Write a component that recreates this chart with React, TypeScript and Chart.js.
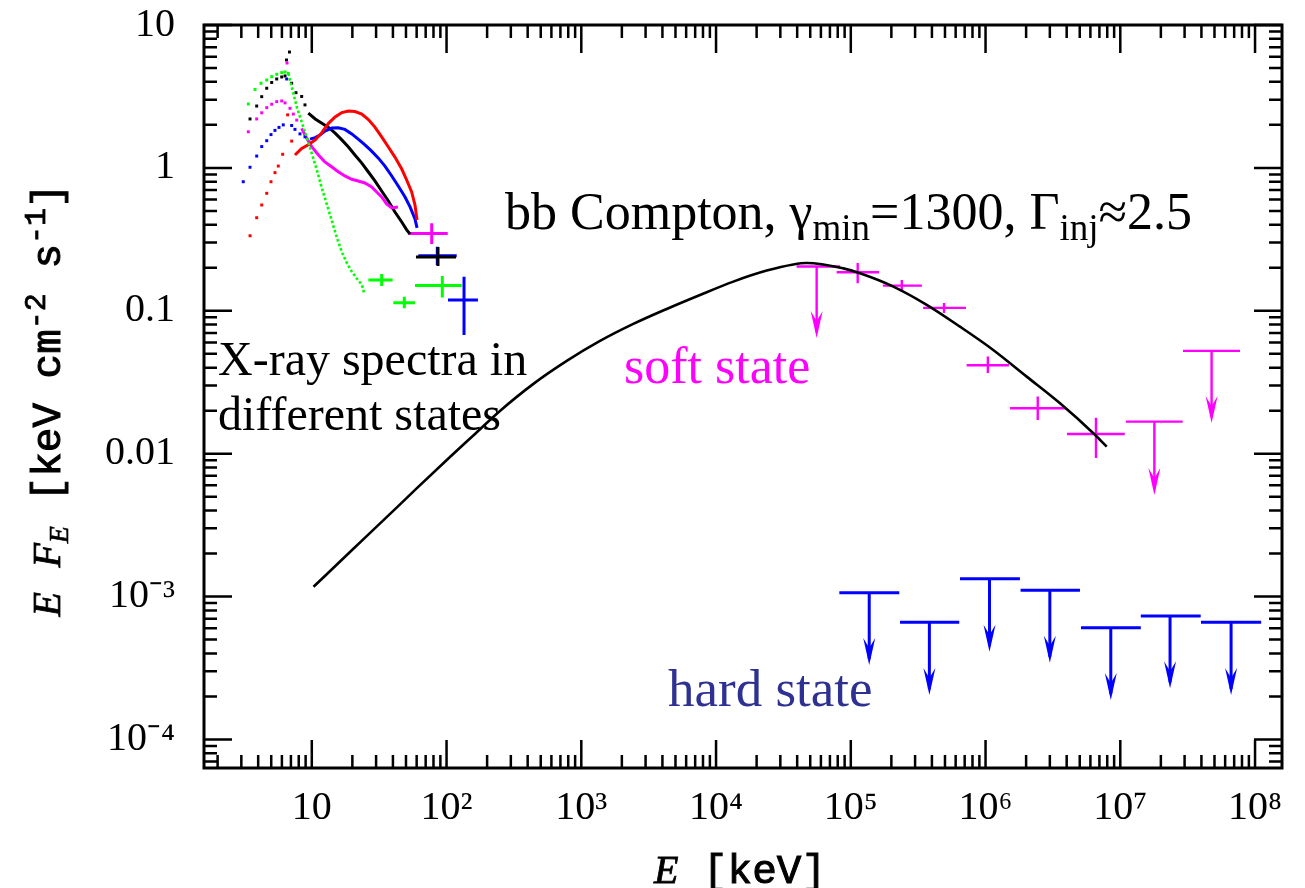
import React, { useEffect, useRef } from "react";
import { Chart, registerables } from "chart.js";

Chart.register(...registerables);

// ---------- axes ----------
const X_MIN = 1.585;
const X_MAX = 1.585e8;
const Y_MIN = 6.31e-5;
const Y_MAX = 10;

const xTickValues = [10, 1e2, 1e3, 1e4, 1e5, 1e6, 1e7, 1e8];
const xTickLabels = ["10", "10²", "10³", "10⁴", "10⁵", "10⁶", "10⁷", "10⁸"];
const yTickValues = [1e-4, 1e-3, 0.01, 0.1, 1, 10];
const yTickLabels = ["10⁻⁴", "10⁻³", "0.01", "0.1", "1", "10"];

// ---------- model curve (bb Compton) ----------
const modelE = [10.3, 19.2, 33.9, 60.0, 106, 158, 249, 441, 780, 1377, 2432, 4306, 7603, 13430, 23770, 37420, 47060, 87960, 1.17e5, 2.07e5, 3.66e5, 6.46e5, 1.14e6, 2.02e6, 3.57e6, 6.31e6, 7.93e6];
const modelF = [1.17e-3, 2.05e-3, 3.41e-3, 5.71e-3, 9.48e-3, 0.0134, 0.0199, 0.0308, 0.0446, 0.0615, 0.0809, 0.103, 0.129, 0.16, 0.191, 0.211, 0.216, 0.198, 0.183, 0.1476, 0.11, 0.0774, 0.0532, 0.0346, 0.0225, 0.0139, 0.0112];

// ---------- X-ray spectra ----------
const greenLowE = [3.38, 3.79, 4.2, 4.63, 5.04, 5.49, 5.98, 6.33, 6.69];
const greenLowF = [2.8, 3.54, 3.91, 4.12, 4.35, 4.52, 4.64, 4.69, 4.58];
const greenHighE = [6.69, 7.25, 7.77, 8.41, 9.17, 9.98, 10.9, 11.8, 12.9, 14.1, 15.3, 16.7, 18.2, 19.8, 21.5, 23.5, 24.5];
const greenHighF = [4.58, 3.4, 2.63, 2.1, 1.64, 1.27, 0.967, 0.735, 0.559, 0.425, 0.328, 0.258, 0.216, 0.188, 0.169, 0.152, 0.133];

const blackLowE = [3.48, 3.9, 4.25, 4.63, 5.04, 5.49, 5.98, 6.33, 6.49, 6.83, 7.09, 7.63, 8.41, 8.9];
const blackLowF = [2.2, 2.71, 3.15, 3.61, 3.96, 4.19, 4.33, 4.4, 5.69, 6.47, 3.91, 3.36, 3.16, 2.76];
const blackHighE = [9.42, 10.6, 11.8, 13.3, 14.9, 16.7, 18.7, 20.9, 23.5, 26.3, 29.4, 33.0, 37.0, 41.4, 46.5, 50.6, 53.6];
const blackHighF = [2.42, 2.2, 2.06, 1.92, 1.75, 1.57, 1.4, 1.23, 1.08, 0.936, 0.81, 0.689, 0.587, 0.491, 0.418, 0.368, 0.345];

const redLowE = [3.48, 3.9, 4.25, 4.63, 4.98, 5.33, 5.64, 6.08, 6.62, 7.09];
const redLowF = [0.335, 0.448, 0.55, 0.664, 0.8, 0.926, 1.03, 1.245, 2.35, 1.54];
const redHighE = [7.5, 8.41, 9.42, 10.6, 11.8, 13.3, 14.9, 16.7, 18.7, 20.9, 23.5, 26.3, 29.4, 33.0, 37.0, 41.4, 46.5, 50.6, 55.1, 58.3, 60.4];
const redHighF = [1.23, 1.37, 1.45, 1.57, 1.75, 2.05, 2.27, 2.44, 2.5, 2.48, 2.38, 2.18, 1.93, 1.65, 1.4, 1.19, 0.982, 0.823, 0.678, 0.55, 0.432];

const blueLowE = [3.1, 3.48, 3.9, 4.25, 4.63, 4.98, 5.33, 5.71, 6.14, 6.51, 7.09, 7.5, 8.17, 8.9];
const blueLowF = [0.8, 1.01, 1.21, 1.41, 1.55, 1.71, 1.83, 1.92, 2.0, 4.19, 1.98, 1.86, 1.73, 1.65];
const blueHighE = [9.69, 10.6, 11.5, 12.5, 14.1, 15.7, 17.6, 19.8, 22.1, 24.8, 27.8, 31.2, 34.9, 39.2, 43.8, 49.2, 53.6, 58.3, 60.4];
const blueHighF = [1.59, 1.63, 1.7, 1.81, 1.9, 1.91, 1.86, 1.73, 1.59, 1.45, 1.31, 1.17, 1.03, 0.878, 0.747, 0.626, 0.533, 0.439, 0.38];

const magentaLowE = [3.38, 3.9, 4.25, 4.63, 5.04, 5.49, 5.98, 6.33, 6.55, 6.89, 7.29, 7.73];
const magentaLowF = [1.79, 2.2, 2.43, 2.64, 2.79, 2.91, 2.94, 2.85, 5.42, 2.61, 2.38, 2.16];
const magentaHighE = [8.41, 9.17, 9.98, 11.2, 12.5, 14.1, 15.7, 17.6, 19.8, 22.1, 24.8, 27.8, 30.3, 33.0, 35.9, 39.2, 43.6];
const magentaHighF = [1.89, 1.61, 1.41, 1.23, 1.1, 1.015, 0.941, 0.878, 0.832, 0.81, 0.784, 0.735, 0.678, 0.626, 0.559, 0.524, 0.533];

// X-ray crosses (E, E-range, F, F-range)
const greenCrossE = [33.0, 48.6, 93.0];
const greenCrossELo = [26.3, 40.3, 58.3];
const greenCrossEHi = [39.8, 58.3, 129.5];
const greenCrossF = [0.164, 0.114, 0.15];
const greenCrossFLo = [0.149, 0.104, 0.1236];
const greenCrossFHi = [0.181, 0.1256, 0.175];

const blueCrossE = [85.4, 134.8];
const blueCrossELo = [61.7, 102.5];
const blueCrossEHi = [119, 171];
const blueCrossF = [0.243, 0.119];
const blueCrossFLo = [0.209, 0.0677];
const blueCrossFHi = [0.281, 0.173];

const blackCrossE = [86.4];
const blackCrossELo = [59.3];
const blackCrossEHi = [117.5];
const blackCrossF = [0.238];
const blackCrossFLo = [0.206];
const blackCrossFHi = [0.2796];

const magentaCrossE = [77.6];
const magentaCrossELo = [52.0];
const magentaCrossEHi = [102];
const magentaCrossF = [0.348];
const magentaCrossFLo = [0.2935];
const magentaCrossFHi = [0.409];

// ---------- gamma-ray data: soft state ----------
const softCrossE = [1.125e5, 2.39e5, 4.92e5, 1.04e6, 2.44e6, 6.6e6];
const softCrossELo = [7.85e4, 1.73e5, 3.44e5, 7.24e5, 1.52e6, 4.02e6];
const softCrossEHi = [1.62e5, 3.37e5, 7.16e5, 1.49e6, 3.95e6, 1.08e7];
const softCrossF = [0.186, 0.15, 0.1047, 0.0416, 0.0208, 0.01374];
const softCrossFLo = [0.156, 0.1355, 0.0966, 0.0367, 0.0172, 0.00933];
const softCrossFHi = [0.216, 0.164, 0.1135, 0.0478, 0.0251, 0.0178];

const softUlE = [5.58e4, 1.79e7, 4.76e7];
const softUlELo = [3.96e4, 1.1e7, 2.92e7];
const softUlEHi = [8.32e4, 2.9e7, 7.73e7];
const softUlF = [0.204, 0.01675, 0.0524];
const softUlTip = [0.0645, 0.00514, 0.0164];

// ---------- gamma-ray data: hard state (upper limits) ----------
const hardUlE = [1.37e5, 3.83e5, 1.07e6, 3.0e6, 8.5e6, 2.34e7, 6.64e7];
const hardUlELo = [8.22e4, 2.32e5, 6.46e5, 1.82e6, 5.11e6, 1.42e7, 3.97e7];
const hardUlEHi = [2.29e5, 6.38e5, 1.8e6, 5.02e6, 1.42e7, 3.95e7, 1.11e8];
const hardUlF = [1.064e-3, 6.6e-4, 1.33e-3, 1.106e-3, 6.05e-4, 7.31e-4, 6.6e-4];
const hardUlTip = [3.32e-4, 2.05e-4, 4.11e-4, 3.44e-4, 1.89e-4, 2.28e-4, 2.05e-4];

// ---------- colours ----------
const GREEN = "#00ff00";
const BLUE = "#0000ff";
const RED = "#ff0000";
const MAGENTA = "#ff00ff";
const BLACK = "#000000";
const HARD_TEXT = "#2e3192";

const toXY = (xs: number[], ys: number[]) => xs.map((x, i) => ({ x, y: ys[i] }));

const labelFor = (values: number[], labels: string[], v: number) => {
  const i = values.findIndex((t) => Math.abs(Math.log10(t) - Math.log10(v)) < 1e-6);
  return i >= 0 ? labels[i] : "";
};

type Seg = { t: string; font: string; dy?: number; bold?: number };
const drawSegs = (ctx: CanvasRenderingContext2D, segs: Seg[], x: number, y: number, center: boolean) => {
  let w = 0;
  for (const s of segs) {
    ctx.font = s.font;
    w += ctx.measureText(s.t).width;
  }
  let cx = center ? x - w / 2 : x;
  for (const s of segs) {
    ctx.font = s.font;
    ctx.fillText(s.t, cx, y + (s.dy || 0));
    if (s.bold) {
      ctx.lineWidth = s.bold;
      ctx.strokeStyle = ctx.fillStyle as string;
      ctx.strokeText(s.t, cx, y + (s.dy || 0));
    }
    cx += ctx.measureText(s.t).width;
  }
};

const overlay = {
  id: "overlay",
  beforeDatasetsDraw(chart: any) {
    const ctx: CanvasRenderingContext2D = chart.ctx;
    const xs = chart.scales.x;
    const ys = chart.scales.y;
    const px = (v: number) => xs.getPixelForValue(v);
    const py = (v: number) => ys.getPixelForValue(v);
    ctx.save();
    ctx.lineCap = "butt";

    const crosses = (color: string, lw: number, E: number[], ELo: number[], EHi: number[], F: number[], FLo: number[], FHi: number[]) => {
      ctx.strokeStyle = color;
      ctx.lineWidth = lw;
      for (let i = 0; i < E.length; i++) {
        ctx.beginPath();
        ctx.moveTo(px(ELo[i]), py(F[i]));
        ctx.lineTo(px(EHi[i]), py(F[i]));
        ctx.moveTo(px(E[i]), py(FHi[i]));
        ctx.lineTo(px(E[i]), py(FLo[i]));
        ctx.stroke();
      }
    };
    const limits = (color: string, lw: number, E: number[], ELo: number[], EHi: number[], F: number[], Tip: number[]) => {
      ctx.strokeStyle = color;
      ctx.fillStyle = color;
      ctx.lineWidth = lw;
      for (let i = 0; i < E.length; i++) {
        const x = px(E[i]);
        const y = py(F[i]);
        const t = py(Tip[i]);
        ctx.beginPath();
        ctx.moveTo(px(ELo[i]), y);
        ctx.lineTo(px(EHi[i]), y);
        ctx.moveTo(x, y);
        ctx.lineTo(x, t - 6);
        ctx.stroke();
        ctx.beginPath();
        ctx.moveTo(x, t);
        ctx.lineTo(x - 6, t - 27);
        ctx.lineTo(x, t - 17);
        ctx.lineTo(x + 6, t - 27);
        ctx.closePath();
        ctx.fill();
      }
    };

    crosses(GREEN, 3, greenCrossE, greenCrossELo, greenCrossEHi, greenCrossF, greenCrossFLo, greenCrossFHi);
    crosses(BLUE, 3, blueCrossE, blueCrossELo, blueCrossEHi, blueCrossF, blueCrossFLo, blueCrossFHi);
    crosses(BLACK, 3, blackCrossE, blackCrossELo, blackCrossEHi, blackCrossF, blackCrossFLo, blackCrossFHi);
    crosses(MAGENTA, 3, magentaCrossE, magentaCrossELo, magentaCrossEHi, magentaCrossF, magentaCrossFLo, magentaCrossFHi);
    crosses(MAGENTA, 2.4, softCrossE, softCrossELo, softCrossEHi, softCrossF, softCrossFLo, softCrossFHi);
    limits(MAGENTA, 2.4, softUlE, softUlELo, softUlEHi, softUlF, softUlTip);
    limits(BLUE, 3, hardUlE, hardUlELo, hardUlEHi, hardUlF, hardUlTip);
    ctx.restore();
  },
  afterDraw(chart: any) {
    const ctx: CanvasRenderingContext2D = chart.ctx;
    const a = chart.chartArea;
    const xs = chart.scales.x;
    const ys = chart.scales.y;
    ctx.save();

    // tick marks (inward, all four sides)
    ctx.strokeStyle = BLACK;
    ctx.lineWidth = 2.5;
    const logTicks = (scale: any, cb: (p: number, len: number) => void) => {
      const lo = Math.floor(Math.log10(scale.min));
      const hi = Math.ceil(Math.log10(scale.max));
      for (let d = lo; d <= hi; d++) {
        for (let m = 1; m <= 9; m++) {
          const v = m * Math.pow(10, d);
          if (v < scale.min * 0.9999 || v > scale.max * 1.0001) continue;
          cb(scale.getPixelForValue(v), m === 1 ? 28 : 13);
        }
      }
    };
    ctx.beginPath();
    logTicks(xs, (p, len) => {
      ctx.moveTo(p, a.bottom);
      ctx.lineTo(p, a.bottom - len);
      ctx.moveTo(p, a.top);
      ctx.lineTo(p, a.top + len);
    });
    logTicks(ys, (p, len) => {
      ctx.moveTo(a.left, p);
      ctx.lineTo(a.left + len, p);
      ctx.moveTo(a.right, p);
      ctx.lineTo(a.right - len, p);
    });
    ctx.stroke();

    // frame
    ctx.lineWidth = 3;
    ctx.strokeRect(a.left, a.top, a.right - a.left, a.bottom - a.top);

    // axis titles
    ctx.fillStyle = BLACK;
    ctx.textBaseline = "alphabetic";
    ctx.textAlign = "left";
    const mono = '41px "Liberation Mono"';
    const monoSmall = '30px "Liberation Mono"';
    const ital = 'italic 40px "Liberation Serif"';
    const italSmall = 'italic 28px "Liberation Serif"';
    drawSegs(ctx, [
      { t: "E", font: ital, bold: 0.8 },
      { t: " [keV]", font: mono, bold: 1.0 },
    ], 740, 883, true);

    ctx.save();
    ctx.translate(60, 400);
    ctx.rotate(-Math.PI / 2);
    drawSegs(ctx, [
      { t: "E", font: ital, bold: 0.8 },
      { t: " ", font: mono },
      { t: "F", font: ital, bold: 0.8 },
      { t: "E", font: italSmall, dy: 8, bold: 0.6 },
      { t: " [keV cm", font: mono, bold: 1.0 },
      { t: "-2", font: monoSmall, dy: -15, bold: 0.8 },
      { t: " s", font: mono, bold: 1.0 },
      { t: "-1", font: monoSmall, dy: -15, bold: 0.8 },
      { t: "]", font: mono, bold: 1.0 },
    ], 0, 0, true);
    ctx.restore();

    // annotations
    const serif = (s: number) => `${s}px "Liberation Serif"`;
    ctx.fillStyle = BLACK;
    drawSegs(ctx, [
      { t: "bb Compton, γ", font: serif(52) },
      { t: "min", font: serif(37), dy: 11 },
      { t: "=1300, Γ", font: serif(52) },
      { t: "inj", font: serif(37), dy: 11 },
      { t: "≈2.5", font: serif(52) },
    ], 505, 229, false);
    drawSegs(ctx, [{ t: "X-ray spectra in", font: serif(48) }], 218, 375, false);
    drawSegs(ctx, [{ t: "different states", font: serif(48) }], 218, 430, false);
    ctx.fillStyle = MAGENTA;
    drawSegs(ctx, [{ t: "soft state", font: serif(52) }], 624, 383, false);
    ctx.fillStyle = HARD_TEXT;
    drawSegs(ctx, [{ t: "hard state", font: serif(53) }], 668, 706, false);
    ctx.restore();
  },
};

const dots = (xs: number[], ys: number[], color: string) => ({
  data: toXY(xs, ys),
  showLine: false,
  pointStyle: "rect",
  pointRadius: 2.1,
  pointBorderWidth: 0,
  pointBackgroundColor: color,
  borderColor: color,
  backgroundColor: color,
});

const solid = (xs: number[], ys: number[], color: string, width: number) => ({
  data: toXY(xs, ys),
  showLine: true,
  pointRadius: 0,
  borderWidth: width,
  borderColor: color,
  backgroundColor: color,
  fill: false,
});

export default function App() {
  const ref = useRef<HTMLCanvasElement>(null);

  useEffect(() => {
    const canvas = ref.current;
    if (!canvas) return;
    const chart = new Chart(canvas, {
      type: "scatter",
      data: {
        datasets: [
          dots(greenLowE, greenLowF, GREEN),
          { ...solid(greenHighE, greenHighF, GREEN, 2.6), borderDash: [2.6, 2.2] },
          dots(redLowE, redLowF, RED),
          dots(blueLowE, blueLowF, BLUE),
          dots(magentaLowE, magentaLowF, MAGENTA),
          dots(blackLowE, blackLowF, BLACK),
          solid(redHighE, redHighF, RED, 3),
          solid(blueHighE, blueHighF, BLUE, 3),
          solid(magentaHighE, magentaHighF, MAGENTA, 3),
          solid(blackHighE, blackHighF, BLACK, 3),
          { ...solid(modelE, modelF, BLACK, 2.6), cubicInterpolationMode: "monotone" },
        ] as any,
      },
      options: {
        responsive: false,
        animation: false,
        devicePixelRatio: 1,
        events: [],
        layout: { padding: { left: 0, top: 25, right: 23, bottom: 0 } },
        plugins: { legend: { display: false }, tooltip: { enabled: false } },
        scales: {
          x: {
            type: "logarithmic",
            position: "bottom",
            min: X_MIN,
            max: X_MAX,
            bounds: "data",
            grid: { display: false, drawTicks: false },
            border: { display: false },
            afterBuildTicks: (s: any) => {
              s.ticks = xTickValues.map((v) => ({ value: v }));
            },
            afterFit: (s: any) => {
              s.height = 120;
              s.paddingLeft = 0;
              s.paddingRight = 0;
            },
            ticks: {
              autoSkip: false,
              maxRotation: 0,
              minRotation: 0,
              padding: 16,
              color: BLACK,
              font: { family: "Liberation Serif", size: 40 },
              callback: (v: any) => labelFor(xTickValues, xTickLabels, Number(v)),
            },
          },
          y: {
            type: "logarithmic",
            position: "left",
            min: Y_MIN,
            max: Y_MAX,
            bounds: "data",
            grid: { display: false, drawTicks: false },
            border: { display: false },
            afterBuildTicks: (s: any) => {
              s.ticks = yTickValues.map((v) => ({ value: v }));
            },
            afterFit: (s: any) => {
              s.width = 204;
              s.paddingTop = 0;
              s.paddingBottom = 0;
            },
            ticks: {
              autoSkip: false,
              padding: 29,
              color: BLACK,
              font: { family: "Liberation Serif", size: 40 },
              callback: (v: any) => labelFor(yTickValues, yTickLabels, Number(v)),
            },
          },
        },
      } as any,
      plugins: [overlay],
    });
    return () => chart.destroy();
  }, []);

  return (
    <div style={{ position: "absolute", left: 0, top: 0, width: 1305, height: 888, background: "#fff" }}>
      <canvas ref={ref} width={1305} height={888} style={{ display: "block", width: 1305, height: 888 }} />
    </div>
  );
}
